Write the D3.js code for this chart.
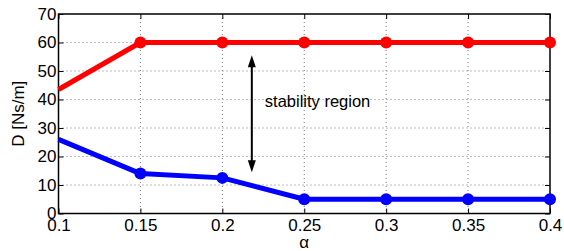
<!DOCTYPE html>
<html><head><meta charset="utf-8">
<script src="https://cdn.jsdelivr.net/npm/d3@7"></script>
<style>body{margin:0;background:#fff;} svg{display:block;font-family:"Liberation Sans",Arial,sans-serif;}</style>
</head><body><svg id="c" width="564" height="251"></svg>
<script>
const alphas = [0.1, 0.15, 0.2, 0.25, 0.3, 0.35, 0.4];
const upper = [43.5, 60, 60, 60, 60, 60, 60];
const lower = [26, 14, 12.5, 5, 5, 5, 5];
const xTicks = [0.1, 0.15, 0.2, 0.25, 0.3, 0.35, 0.4];
const xTickLabels = ["0.1", "0.15", "0.2", "0.25", "0.3", "0.35", "0.4"];
const yTicks = [0, 10, 20, 30, 40, 50, 60, 70];
const arrowAlpha = 0.218, arrowFrom = 14.5, arrowTo = 55.5;
const annotation = "stability region";

const svg = d3.select("#c");
const L = 58.5, R = 550, T = 14, B = 213.5;
const x = d3.scaleLinear().domain([0.1, 0.4]).range([L, R]);
const y = d3.scaleLinear().domain([0, 70]).range([B, T]);

// grid
const g = svg.append("g");
g.selectAll(".gx").data(xTicks.slice(1, -1)).enter().append("line")
  .attr("x1", d => x(d)).attr("x2", d => x(d)).attr("y1", T).attr("y2", B)
  .attr("stroke", "#555").attr("stroke-width", 0.8).attr("stroke-dasharray", "1,3");
g.selectAll(".gy").data(yTicks.slice(1, -1)).enter().append("line")
  .attr("y1", d => y(d)).attr("y2", d => y(d)).attr("x1", L).attr("x2", R)
  .attr("stroke", "#555").attr("stroke-width", 0.8).attr("stroke-dasharray", "1,3");

// axes
const xa = svg.append("g").attr("transform", `translate(0,${B})`)
  .call(d3.axisBottom(x).tickValues(xTicks).tickFormat((d, i) => xTickLabels[i]).tickSizeInner(-5).tickSizeOuter(0).tickPadding(5));
const ya = svg.append("g").attr("transform", `translate(${L},0)`)
  .call(d3.axisLeft(y).tickValues(yTicks).tickSizeInner(-5).tickSizeOuter(0).tickPadding(2));
svg.append("g").attr("transform", `translate(0,${T})`)
  .call(d3.axisTop(x).tickValues(xTicks).tickFormat("").tickSizeInner(-5).tickSizeOuter(0));
svg.append("g").attr("transform", `translate(${R},0)`)
  .call(d3.axisRight(y).tickValues(yTicks).tickFormat("").tickSizeInner(-5).tickSizeOuter(0));
svg.selectAll(".domain").remove();
svg.selectAll(".tick line").attr("stroke", "#000").attr("stroke-width", 1);
[xa, ya].forEach(a => a.selectAll("text").attr("font-size", 17).attr("fill", "#000")
  .attr("font-family", '"Liberation Sans",Arial,sans-serif'));
svg.append("rect").attr("x", L).attr("y", T).attr("width", R - L).attr("height", B - T)
  .attr("fill", "none").attr("stroke", "#000").attr("stroke-width", 1.5);

// series
const line = d3.line().x((d, i) => x(alphas[i])).y(d => y(d));
[[upper, "#ff0000"], [lower, "#0000ff"]].forEach(([vals, col]) => {
  svg.append("path").datum(vals).attr("d", line).attr("fill", "none")
    .attr("stroke", col).attr("stroke-width", 5).attr("stroke-linejoin", "round");
  svg.selectAll(null).data(vals.slice(1)).enter().append("circle")
    .attr("cx", (d, i) => x(alphas[i + 1])).attr("cy", d => y(d)).attr("r", 6).attr("fill", col);
});

// arrow
const ax = x(arrowAlpha), y1 = y(arrowFrom), y2 = y(arrowTo);
svg.append("line").attr("x1", ax).attr("x2", ax).attr("y1", y1 - 8).attr("y2", y2 + 8)
  .attr("stroke", "#000").attr("stroke-width", 2);
svg.append("path").attr("d", `M${ax},${y2} L${ax - 4},${y2 + 12} L${ax + 4},${y2 + 12} Z`).attr("fill", "#000");
svg.append("path").attr("d", `M${ax},${y1} L${ax - 4},${y1 - 12} L${ax + 4},${y1 - 12} Z`).attr("fill", "#000");
svg.append("text").attr("x", ax + 13).attr("y", y(37.5)).attr("font-size", 16.5).text(annotation);

// labels
svg.append("text").attr("x", (L + R) / 2).attr("y", 248).attr("text-anchor", "middle")
  .attr("font-size", 17).text("α");
svg.append("text").attr("transform", `translate(24,${(T + B) / 2}) rotate(-90)`)
  .attr("text-anchor", "middle").attr("font-size", 17).text("D [Ns/m]");
</script></body></html>
